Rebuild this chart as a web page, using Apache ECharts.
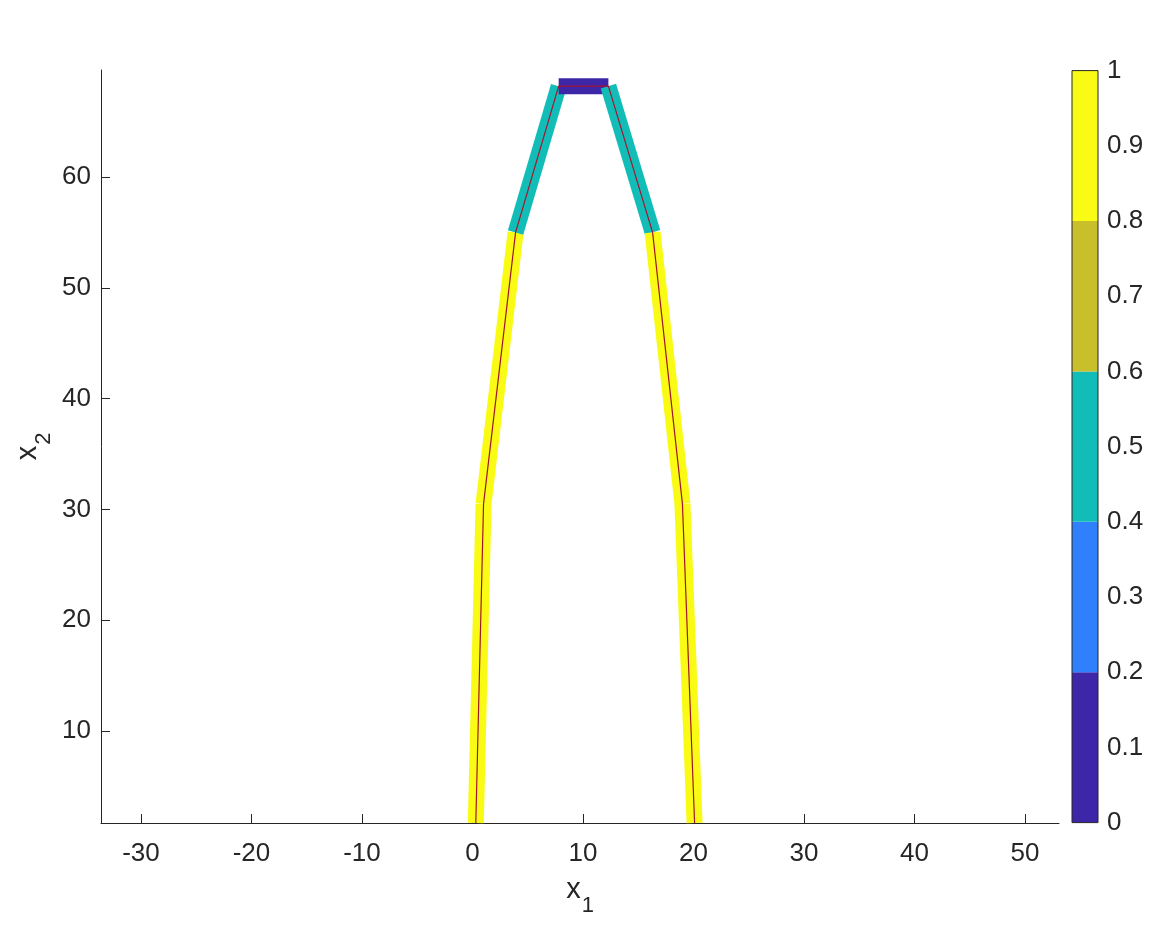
<!DOCTYPE html>
<html>
<head>
<meta charset="utf-8">
<script src="https://cdn.jsdelivr.net/npm/echarts@6/dist/echarts.min.js"></script>
<style>
  html, body { margin: 0; padding: 0; background: #fff; }
  #chart { width: 1171px; height: 926px; }
</style>
</head>
<body>
<div id="chart"></div>
<script>
// centre line of the path (x1, x2)
const pathX = [0.3, 1.0, 3.9, 7.8, 12.3, 16.3, 19.0, 20.1];
const pathY = [1.7, 30.5, 55.0, 68.2, 68.2, 55.0, 30.5, 1.7];
// value of each segment between two consecutive points
const segValue = [0.9, 0.9, 0.5, 0.1, 0.5, 0.9, 0.9];

// colour bar: class edges and colours
const cbEdges = [0, 0.2, 0.4, 0.6, 0.8, 1];
const cbColors = ["#3e26a8", "#3080fd", "#13bdb7", "#c9bf2b", "#f9fb15"];

// tick labels
const xTicks = [-30, -20, -10, 0, 10, 20, 30, 40, 50];
const yTicks = [10, 20, 30, 40, 50, 60];
const cbTicks = [0, 0.1, 0.2, 0.3, 0.4, 0.5, 0.6, 0.7, 0.8, 0.9, 1];

const axisColor = "#262626";
const fontFamily = "Liberation Sans, Arial, sans-serif";
const fontSize = 26;

function colorFor(v) {
  for (let i = 0; i < cbColors.length; i++) {
    if (v >= cbEdges[i] && v <= cbEdges[i + 1]) return cbColors[i];
  }
  return cbColors[cbColors.length - 1];
}

const chart = echarts.init(document.getElementById("chart"), null, { renderer: "canvas" });

// thick coloured bands, one per segment
const bandSeries = segValue.map((v, i) => ({
  type: "line",
  xAxisIndex: 0,
  yAxisIndex: 0,
  data: [[pathX[i], pathY[i]], [pathX[i + 1], pathY[i + 1]]],
  symbol: "none",
  silent: true,
  lineStyle: { color: colorFor(v), width: 16, cap: "butt" },
  z: 2,
}));

// thin centre line
const centreSeries = {
  type: "line",
  xAxisIndex: 0,
  yAxisIndex: 0,
  data: pathX.map((x, i) => [x, pathY[i]]),
  symbol: "none",
  silent: true,
  lineStyle: { color: "#a2142f", width: 1.2 },
  z: 3,
};

// colour bar as stacked bars
const cbSeries = cbColors.map((c, i) => ({
  type: "bar",
  xAxisIndex: 1,
  yAxisIndex: 1,
  stack: "cb",
  data: [cbEdges[i + 1] - cbEdges[i]],
  barWidth: "100%",
  itemStyle: { color: c },
  silent: true,
}));

const tickLabel = { color: axisColor, fontFamily: fontFamily, fontSize: fontSize };

const subRich = {
  a: { fontFamily: fontFamily, fontSize: 29, color: axisColor },
  b: { fontFamily: fontFamily, fontSize: 22, color: axisColor, padding: [32, 0, 0, 1] },
};

chart.setOption({
  animation: false,
  grid: [
    { left: 101, top: 70, width: 958, height: 753, containLabel: false },
    { left: 1072, top: 70.6, width: 26, height: 752, show: true, borderColor: axisColor, borderWidth: 1, z: 5 },
  ],
  xAxis: [
    {
      type: "value",
      gridIndex: 0,
      min: -33.62,
      max: 53.08,
      splitLine: { show: false },
      axisLine: { onZero: false, lineStyle: { color: axisColor, width: 1 } },
      axisTick: { inside: true, length: 9, customValues: xTicks, lineStyle: { color: axisColor } },
      axisLabel: Object.assign({ margin: 18, customValues: xTicks }, tickLabel),
      name: "{a|x}{b|1}",
      nameLocation: "middle",
      nameGap: 40,
      nameMoveOverlap: false,
      nameTextStyle: { rich: subRich },
    },
    {
      type: "category",
      gridIndex: 1,
      data: ["cb"],
      show: false,
    },
  ],
  yAxis: [
    {
      type: "value",
      gridIndex: 0,
      min: 1.7,
      max: 69.66,
      splitLine: { show: false },
      axisLine: { onZero: false, lineStyle: { color: axisColor, width: 1 } },
      axisTick: { inside: true, length: 9, customValues: yTicks, lineStyle: { color: axisColor } },
      axisLabel: Object.assign({ margin: 10, customValues: yTicks }, tickLabel),
      name: "{a|x}{b|2}",
      nameLocation: "middle",
      nameGap: 46,
      nameMoveOverlap: false,
      nameTextStyle: { rich: subRich },
    },
    {
      type: "value",
      gridIndex: 1,
      position: "right",
      min: 0,
      max: 1,
      splitLine: { show: false },
      axisLine: { show: false },
      axisTick: { inside: true, length: 6, customValues: cbTicks, lineStyle: { color: axisColor } },
      axisLabel: Object.assign({ margin: 9, customValues: cbTicks }, tickLabel),
    },
  ],
  series: bandSeries.concat([centreSeries], cbSeries),
});

window.addEventListener("resize", () => chart.resize());
</script>
</body>
</html>
